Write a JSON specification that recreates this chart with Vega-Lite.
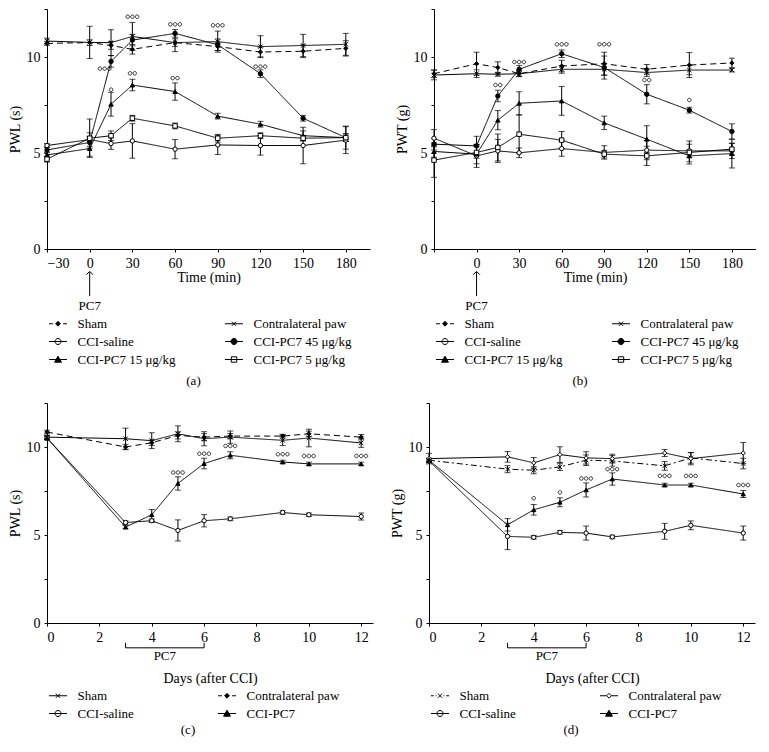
{
"$schema": "https://vega.github.io/schema/vega-lite/v6.json",
"padding": {"left": 8, "top": 8, "right": 0, "bottom": 0},
"config": {
  "view": {"stroke": null},
  "font": "Liberation Serif",
  "axis": {"domainColor": "black", "tickColor": "black", "labelColor": "black", "titleColor": "black", "labelFont": "Liberation Serif", "titleFont": "Liberation Serif", "labelFontSize": 14, "titleFontSize": 14, "titleFontWeight": "normal", "grid": false, "tickSize": 3, "labelPadding": 4, "domainWidth": 1, "tickWidth": 1},
  "legend": {"labelFont": "Liberation Serif", "labelFontSize": 13, "labelColor": "black", "padding": 0},
  "title": {"font": "Liberation Serif", "fontSize": 13, "fontWeight": "normal", "color": "black"},
  "text": {"font": "Liberation Serif", "color": "black"}
},
"resolve": {"scale": {"strokeDash": "independent", "size": "independent", "shape": "independent", "fill": "independent", "stroke": "independent"}},
"datasets": {
  "a": [
    {"s":"Sham","t":-30,"v":10.71,"e":0.1},{"s":"Sham","t":0,"v":10.75,"e":0.15},{"s":"Sham","t":15,"v":10.6,"e":0.2},{"s":"Sham","t":30,"v":10.4,"e":0.25},{"s":"Sham","t":60,"v":10.75,"e":0.2},{"s":"Sham","t":90,"v":10.54,"e":0.2},{"s":"Sham","t":120,"v":10.26,"e":0.25},{"s":"Sham","t":150,"v":10.3,"e":0.33},{"s":"Sham","t":180,"v":10.45,"e":0.4},
    {"s":"Contralateral paw","t":-30,"v":10.83,"e":0.15},{"s":"Contralateral paw","t":0,"v":10.76,"e":0.84},{"s":"Contralateral paw","t":15,"v":10.75,"e":0.67},{"s":"Contralateral paw","t":30,"v":11.07,"e":0.73},{"s":"Contralateral paw","t":60,"v":10.75,"e":0.47},{"s":"Contralateral paw","t":90,"v":10.8,"e":0.55},{"s":"Contralateral paw","t":120,"v":10.54,"e":0.57},{"s":"Contralateral paw","t":150,"v":10.6,"e":0.58},{"s":"Contralateral paw","t":180,"v":10.66,"e":0.57},
    {"s":"CCI-saline","t":-30,"v":5.39,"e":0.1},{"s":"CCI-saline","t":0,"v":5.7,"e":0.35},{"s":"CCI-saline","t":15,"v":5.49,"e":0.3},{"s":"CCI-saline","t":30,"v":5.63,"e":0.9},{"s":"CCI-saline","t":60,"v":5.2,"e":0.5},{"s":"CCI-saline","t":90,"v":5.42,"e":0.5},{"s":"CCI-saline","t":120,"v":5.39,"e":0.5},{"s":"CCI-saline","t":150,"v":5.39,"e":0.95},{"s":"CCI-saline","t":180,"v":5.67,"e":0.7},
    {"s":"CCI-PC7 45 μg/kg","t":-30,"v":5.16,"e":0.15},{"s":"CCI-PC7 45 μg/kg","t":0,"v":5.55,"e":0.3},{"s":"CCI-PC7 45 μg/kg","t":15,"v":9.77,"e":0.3},{"s":"CCI-PC7 45 μg/kg","t":30,"v":10.88,"e":0.3},{"s":"CCI-PC7 45 μg/kg","t":60,"v":11.23,"e":0.2},{"s":"CCI-PC7 45 μg/kg","t":90,"v":10.64,"e":0.3},{"s":"CCI-PC7 45 μg/kg","t":120,"v":9.13,"e":0.2},{"s":"CCI-PC7 45 μg/kg","t":150,"v":6.81,"e":0.15},{"s":"CCI-PC7 45 μg/kg","t":180,"v":5.8,"e":0.2},
    {"s":"CCI-PC7 15 μg/kg","t":-30,"v":4.9,"e":0.15},{"s":"CCI-PC7 15 μg/kg","t":0,"v":5.23,"e":0.4},{"s":"CCI-PC7 15 μg/kg","t":15,"v":7.54,"e":0.62},{"s":"CCI-PC7 15 μg/kg","t":30,"v":8.54,"e":0.3},{"s":"CCI-PC7 15 μg/kg","t":60,"v":8.2,"e":0.45},{"s":"CCI-PC7 15 μg/kg","t":90,"v":6.92,"e":0.15},{"s":"CCI-PC7 15 μg/kg","t":120,"v":6.5,"e":0.15},{"s":"CCI-PC7 15 μg/kg","t":150,"v":5.9,"e":0.25},{"s":"CCI-PC7 15 μg/kg","t":180,"v":5.8,"e":0.6},
    {"s":"CCI-PC7 5 μg/kg","t":-30,"v":4.68,"e":0.15},{"s":"CCI-PC7 5 μg/kg","t":0,"v":5.77,"e":1.0},{"s":"CCI-PC7 5 μg/kg","t":15,"v":5.9,"e":0.25},{"s":"CCI-PC7 5 μg/kg","t":30,"v":6.81,"e":0.15},{"s":"CCI-PC7 5 μg/kg","t":60,"v":6.41,"e":0.15},{"s":"CCI-PC7 5 μg/kg","t":90,"v":5.77,"e":0.2},{"s":"CCI-PC7 5 μg/kg","t":120,"v":5.9,"e":0.15},{"s":"CCI-PC7 5 μg/kg","t":150,"v":5.77,"e":0.15},{"s":"CCI-PC7 5 μg/kg","t":180,"v":5.8,"e":0.2}
  ],
  "b": [
    {"s":"Sham","t":-30,"v":9.13,"e":0.2},{"s":"Sham","t":0,"v":9.65,"e":0.6},{"s":"Sham","t":15,"v":9.45,"e":0.3},{"s":"Sham","t":30,"v":9.13,"e":0.15},{"s":"Sham","t":60,"v":9.53,"e":0.3},{"s":"Sham","t":90,"v":9.65,"e":0.6},{"s":"Sham","t":120,"v":9.36,"e":0.25},{"s":"Sham","t":150,"v":9.58,"e":0.65},{"s":"Sham","t":180,"v":9.69,"e":0.25},
    {"s":"Contralateral paw","t":-30,"v":9.06,"e":0.25},{"s":"Contralateral paw","t":0,"v":9.13,"e":0.2},{"s":"Contralateral paw","t":15,"v":9.1,"e":0.1},{"s":"Contralateral paw","t":30,"v":9.13,"e":0.15},{"s":"Contralateral paw","t":60,"v":9.36,"e":0.2},{"s":"Contralateral paw","t":90,"v":9.36,"e":0.3},{"s":"Contralateral paw","t":120,"v":9.19,"e":0.2},{"s":"Contralateral paw","t":150,"v":9.32,"e":0.25},{"s":"Contralateral paw","t":180,"v":9.32,"e":0.1},
    {"s":"CCI-saline","t":-30,"v":5.77,"e":0.45},{"s":"CCI-saline","t":0,"v":4.85,"e":0.6},{"s":"CCI-saline","t":15,"v":5.11,"e":0.6},{"s":"CCI-saline","t":30,"v":5.01,"e":0.25},{"s":"CCI-saline","t":60,"v":5.23,"e":0.4},{"s":"CCI-saline","t":90,"v":5.03,"e":0.35},{"s":"CCI-saline","t":120,"v":5.15,"e":0.5},{"s":"CCI-saline","t":150,"v":5.11,"e":0.35},{"s":"CCI-saline","t":180,"v":5.11,"e":0.4},
    {"s":"CCI-PC7 45 μg/kg","t":-30,"v":5.46,"e":0.3},{"s":"CCI-PC7 45 μg/kg","t":0,"v":5.37,"e":0.5},{"s":"CCI-PC7 45 μg/kg","t":15,"v":7.97,"e":0.3},{"s":"CCI-PC7 45 μg/kg","t":30,"v":9.36,"e":0.2},{"s":"CCI-PC7 45 μg/kg","t":60,"v":10.17,"e":0.2},{"s":"CCI-PC7 45 μg/kg","t":90,"v":9.45,"e":0.6},{"s":"CCI-PC7 45 μg/kg","t":120,"v":8.06,"e":0.5},{"s":"CCI-PC7 45 μg/kg","t":150,"v":7.23,"e":0.15},{"s":"CCI-PC7 45 μg/kg","t":180,"v":6.12,"e":0.4},
    {"s":"CCI-PC7 15 μg/kg","t":-30,"v":5.08,"e":0.3},{"s":"CCI-PC7 15 μg/kg","t":0,"v":4.94,"e":0.5},{"s":"CCI-PC7 15 μg/kg","t":15,"v":6.71,"e":0.5},{"s":"CCI-PC7 15 μg/kg","t":30,"v":7.59,"e":0.6},{"s":"CCI-PC7 15 μg/kg","t":60,"v":7.71,"e":0.75},{"s":"CCI-PC7 15 μg/kg","t":90,"v":6.57,"e":0.35},{"s":"CCI-PC7 15 μg/kg","t":120,"v":5.72,"e":0.7},{"s":"CCI-PC7 15 μg/kg","t":150,"v":4.85,"e":0.3},{"s":"CCI-PC7 15 μg/kg","t":180,"v":4.97,"e":0.75},
    {"s":"CCI-PC7 5 μg/kg","t":-30,"v":4.63,"e":0.9},{"s":"CCI-PC7 5 μg/kg","t":0,"v":5.03,"e":0.3},{"s":"CCI-PC7 5 μg/kg","t":15,"v":5.29,"e":0.7},{"s":"CCI-PC7 5 μg/kg","t":30,"v":5.98,"e":1.0},{"s":"CCI-PC7 5 μg/kg","t":60,"v":5.67,"e":0.45},{"s":"CCI-PC7 5 μg/kg","t":90,"v":4.94,"e":0.2},{"s":"CCI-PC7 5 μg/kg","t":120,"v":4.85,"e":0.5},{"s":"CCI-PC7 5 μg/kg","t":150,"v":5.03,"e":0.6},{"s":"CCI-PC7 5 μg/kg","t":180,"v":5.2,"e":0.3}
  ],
  "c": [
    {"s":"Sham","t":0,"v":10.56,"e":0.1},{"s":"Sham","t":3,"v":10.47,"e":0.6},{"s":"Sham","t":4,"v":10.36,"e":0.45},{"s":"Sham","t":5,"v":10.75,"e":0.45},{"s":"Sham","t":6,"v":10.47,"e":0.4},{"s":"Sham","t":7,"v":10.56,"e":0.35},{"s":"Sham","t":9,"v":10.38,"e":0.3},{"s":"Sham","t":10,"v":10.51,"e":0.5},{"s":"Sham","t":12,"v":10.23,"e":0.25},
    {"s":"Contralateral paw","t":0,"v":10.85,"e":0.1},{"s":"Contralateral paw","t":3,"v":10.0,"e":0.15},{"s":"Contralateral paw","t":4,"v":10.24,"e":0.15},{"s":"Contralateral paw","t":5,"v":10.66,"e":0.2},{"s":"Contralateral paw","t":6,"v":10.56,"e":0.2},{"s":"Contralateral paw","t":7,"v":10.62,"e":0.15},{"s":"Contralateral paw","t":9,"v":10.62,"e":0.1},{"s":"Contralateral paw","t":10,"v":10.75,"e":0.15},{"s":"Contralateral paw","t":12,"v":10.56,"e":0.15},
    {"s":"CCI-saline","t":0,"v":10.51,"e":0.1},{"s":"CCI-saline","t":3,"v":5.71,"e":0.1},{"s":"CCI-saline","t":4,"v":5.81,"e":0.1},{"s":"CCI-saline","t":5,"v":5.26,"e":0.6},{"s":"CCI-saline","t":6,"v":5.81,"e":0.35},{"s":"CCI-saline","t":7,"v":5.92,"e":0.1},{"s":"CCI-saline","t":9,"v":6.28,"e":0.1},{"s":"CCI-saline","t":10,"v":6.15,"e":0.1},{"s":"CCI-saline","t":12,"v":6.05,"e":0.2},
    {"s":"CCI-PC7","t":0,"v":10.51,"e":0.1},{"s":"CCI-PC7","t":3,"v":5.45,"e":0.1},{"s":"CCI-PC7","t":4,"v":6.15,"e":0.3},{"s":"CCI-PC7","t":5,"v":7.93,"e":0.38},{"s":"CCI-PC7","t":6,"v":9.06,"e":0.3},{"s":"CCI-PC7","t":7,"v":9.53,"e":0.2},{"s":"CCI-PC7","t":9,"v":9.15,"e":0.1},{"s":"CCI-PC7","t":10,"v":9.04,"e":0.1},{"s":"CCI-PC7","t":12,"v":9.04,"e":0.1}
  ],
  "d": [
    {"s":"Sham","t":0,"v":9.25,"e":0.1},{"s":"Sham","t":3,"v":8.74,"e":0.2},{"s":"Sham","t":4,"v":8.68,"e":0.2},{"s":"Sham","t":5,"v":8.87,"e":0.2},{"s":"Sham","t":6,"v":9.25,"e":0.3},{"s":"Sham","t":7,"v":9.21,"e":0.3},{"s":"Sham","t":9,"v":8.93,"e":0.25},{"s":"Sham","t":10,"v":9.38,"e":0.3},{"s":"Sham","t":12,"v":9.06,"e":0.3},
    {"s":"Contralateral paw","t":0,"v":9.34,"e":0.3},{"s":"Contralateral paw","t":3,"v":9.44,"e":0.3},{"s":"Contralateral paw","t":4,"v":9.1,"e":0.3},{"s":"Contralateral paw","t":5,"v":9.57,"e":0.45},{"s":"Contralateral paw","t":6,"v":9.38,"e":0.35},{"s":"Contralateral paw","t":7,"v":9.34,"e":0.25},{"s":"Contralateral paw","t":9,"v":9.66,"e":0.2},{"s":"Contralateral paw","t":10,"v":9.34,"e":0.35},{"s":"Contralateral paw","t":12,"v":9.66,"e":0.6},
    {"s":"CCI-saline","t":0,"v":9.21,"e":0.1},{"s":"CCI-saline","t":3,"v":4.92,"e":0.75},{"s":"CCI-saline","t":4,"v":4.87,"e":0.1},{"s":"CCI-saline","t":5,"v":5.15,"e":0.1},{"s":"CCI-saline","t":6,"v":5.11,"e":0.4},{"s":"CCI-saline","t":7,"v":4.89,"e":0.1},{"s":"CCI-saline","t":9,"v":5.21,"e":0.45},{"s":"CCI-saline","t":10,"v":5.55,"e":0.25},{"s":"CCI-saline","t":12,"v":5.11,"e":0.4},
    {"s":"CCI-PC7","t":0,"v":9.25,"e":0.1},{"s":"CCI-PC7","t":3,"v":5.58,"e":0.35},{"s":"CCI-PC7","t":4,"v":6.43,"e":0.3},{"s":"CCI-PC7","t":5,"v":6.86,"e":0.25},{"s":"CCI-PC7","t":6,"v":7.56,"e":0.4},{"s":"CCI-PC7","t":7,"v":8.18,"e":0.35},{"s":"CCI-PC7","t":9,"v":7.84,"e":0.1},{"s":"CCI-PC7","t":10,"v":7.84,"e":0.1},{"s":"CCI-PC7","t":12,"v":7.33,"e":0.2}
  ],
  "sigA": [{"t":10.5,"v":9.39,"lab":"ooo"},{"t":30,"v":12.1,"lab":"ooo"},{"t":60,"v":11.7,"lab":"ooo"},{"t":90,"v":11.65,"lab":"ooo"},{"t":120,"v":9.5,"lab":"ooo"},{"t":15,"v":8.3,"lab":"o"},{"t":30,"v":9.15,"lab":"oo"},{"t":60,"v":8.9,"lab":"oo"}],
  "sigB": [{"t":15,"v":8.54,"lab":"oo"},{"t":30,"v":9.74,"lab":"ooo"},{"t":60,"v":10.66,"lab":"ooo"},{"t":90,"v":10.66,"lab":"ooo"},{"t":120,"v":8.8,"lab":"oo"},{"t":150,"v":7.76,"lab":"o"}],
  "sigC": [{"t":5,"v":8.55,"lab":"ooo"},{"t":6,"v":9.62,"lab":"ooo"},{"t":7,"v":10.06,"lab":"ooo"},{"t":9,"v":9.59,"lab":"ooo"},{"t":10,"v":9.49,"lab":"ooo"},{"t":12,"v":9.49,"lab":"ooo"}],
  "sigD": [{"t":4,"v":7.09,"lab":"o"},{"t":5,"v":7.42,"lab":"o"},{"t":6,"v":8.21,"lab":"ooo"},{"t":7,"v":8.74,"lab":"ooo"},{"t":9,"v":8.36,"lab":"ooo"},{"t":10,"v":8.36,"lab":"ooo"},{"t":12,"v":7.84,"lab":"ooo"}]
},
"vconcat": [
 {"hconcat": [
  {"width": 323, "height": 240, "data": {"name": "a"},
   "title": {"text": "(a)", "orient": "bottom", "anchor": "middle", "frame": "group", "offset": 8, "dx": -15},
   "resolve": {"scale": {"shape": "independent", "fill": "independent", "stroke": "independent"}},
   "layer": [
    {"mark": {"type": "line", "color": "black", "strokeWidth": 1},
     "encoding": {
       "x": {"field": "t", "type": "quantitative", "scale": {"domain": [-30, 197], "nice": false, "zero": false}, "axis": {"title": "Time (min)", "values": [-30,-15,0,15,30,45,60,75,90,105,120,135,150,165,180,195], "labelExpr": "datum.value % 30 === 0 ? datum.label : ''", "titlePadding": 0}},
       "y": {"field": "v", "type": "quantitative", "scale": {"domain": [0, 12.5], "nice": false, "zero": false}, "axis": {"title": "PWL (s)", "values": [0,2.5,5,7.5,10,12.5], "labelExpr": "datum.value % 5 === 0 ? datum.label : ''", "titlePadding": 4}},
       "detail": {"field": "s"},
       "strokeDash": {"field": "s", "type": "nominal", "scale": {"domain": ["Sham","Contralateral paw","CCI-saline","CCI-PC7 45 μg/kg","CCI-PC7 15 μg/kg","CCI-PC7 5 μg/kg"], "range": [[6,4],[1,0],[1,0],[1,0],[1,0],[1,0]]}, "legend": null}}},
    {"mark": {"type": "errorbar", "ticks": {"size": 6}, "color": "black", "thickness": 1},
     "encoding": {
       "x": {"field": "t", "type": "quantitative", "title": "Time (min)", "scale": {"domain": [-30, 197], "nice": false, "zero": false}},
       "y": {"field": "v", "type": "quantitative", "title": "PWL (s)", "scale": {"domain": [0, 12.5], "nice": false, "zero": false}},
       "yError": {"field": "e"}}},
    {"mark": {"type": "point", "filled": true, "stroke": "black", "strokeWidth": 1, "opacity": 1},
     "encoding": {
       "x": {"field": "t", "type": "quantitative", "scale": {"domain": [-30, 197], "nice": false, "zero": false}},
       "y": {"field": "v", "type": "quantitative", "scale": {"domain": [0, 12.5], "nice": false, "zero": false}},
       "shape": {"field": "s", "type": "nominal", "scale": {"domain": ["Sham","Contralateral paw","CCI-saline","CCI-PC7 45 μg/kg","CCI-PC7 15 μg/kg","CCI-PC7 5 μg/kg"], "range": ["diamond","M-1,-1L1,1M-1,1L1,-1","circle","circle","triangle-up","square"]}, "legend": null},
       "fill": {"field": "s", "type": "nominal", "scale": {"domain": ["Sham","Contralateral paw","CCI-saline","CCI-PC7 45 μg/kg","CCI-PC7 15 μg/kg","CCI-PC7 5 μg/kg"], "range": ["black","black","white","black","black","white"]}, "legend": null},
       "size": {"field": "s", "type": "nominal", "scale": {"domain": ["Sham","Contralateral paw","CCI-saline","CCI-PC7 45 μg/kg","CCI-PC7 15 μg/kg","CCI-PC7 5 μg/kg"], "range": [18,20,60,64,60,50]}, "legend": null}}},
    {"data": {"name": "sigA"},
     "mark": {"type": "point", "filled": false, "stroke": "black", "strokeWidth": 0.8, "size": 35, "opacity": 1},
     "encoding": {
       "x": {"field": "t", "type": "quantitative", "scale": {"domain": [-30, 197], "nice": false, "zero": false}},
       "y": {"field": "v", "type": "quantitative", "scale": {"domain": [0, 12.5], "nice": false, "zero": false}},
       "shape": {"field": "lab", "type": "nominal", "scale": {"domain": ["o","oo","ooo"], "range": ["M-0.6,0A0.6,0.6 0 1,0 0.6,0A0.6,0.6 0 1,0 -0.6,0Z","M-1.4,0A0.6,0.6 0 1,0 -0.2,0A0.6,0.6 0 1,0 -1.4,0ZM0.2,0A0.6,0.6 0 1,0 1.4,0A0.6,0.6 0 1,0 0.2,0Z","M-2.2,0A0.6,0.6 0 1,0 -1,0A0.6,0.6 0 1,0 -2.2,0ZM-0.6,0A0.6,0.6 0 1,0 0.6,0A0.6,0.6 0 1,0 -0.6,0ZM1,0A0.6,0.6 0 1,0 2.2,0A0.6,0.6 0 1,0 1,0Z"]}, "legend": null}}},
    {"data": {"values": [{}]},
     "mark": {"type": "rule", "color": "black", "strokeWidth": 1},
     "encoding": {
       "x": {"datum": 0, "type": "quantitative", "scale": {"domain": [-30, 197], "nice": false, "zero": false}},
       "y": {"datum": -1.2, "type": "quantitative", "scale": {"domain": [0, 12.5], "nice": false, "zero": false}},
       "y2": {"datum": -2.45}}},
    {"data": {"values": [{}]},
     "mark": {"type": "point", "shape": "M-1,0.8L0,-0.2L1,0.8", "filled": false, "stroke": "black", "strokeWidth": 1, "size": 45, "opacity": 1},
     "encoding": {
       "x": {"datum": 0, "type": "quantitative", "scale": {"domain": [-30, 197], "nice": false, "zero": false}},
       "y": {"datum": -1.2, "type": "quantitative", "scale": {"domain": [0, 12.5], "nice": false, "zero": false}}}},
    {"data": {"values": [{}]},
     "mark": {"type": "text", "text": "PC7", "fontSize": 13, "baseline": "middle", "fill": "black"},
     "encoding": {
       "x": {"datum": 0, "type": "quantitative", "scale": {"domain": [-30, 197], "nice": false, "zero": false}},
       "y": {"datum": -2.95, "type": "quantitative", "scale": {"domain": [0, 12.5], "nice": false, "zero": false}}}},
    {"transform": [{"filter": "datum.t > 9999"}],
     "mark": {"type": "point", "filled": true, "stroke": "black", "strokeWidth": 1, "size": 36, "opacity": 1},
     "encoding": {
       "x": {"field": "t", "type": "quantitative", "scale": {"domain": [-30, 197], "nice": false, "zero": false}},
       "y": {"field": "v", "type": "quantitative", "scale": {"domain": [0, 12.5], "nice": false, "zero": false}},
       "shape": {"field": "s", "type": "nominal", "scale": {"domain": ["Sham","CCI-saline","CCI-PC7 15 μg/kg","Contralateral paw","CCI-PC7 45 μg/kg","CCI-PC7 5 μg/kg"], "range": ["M-3,0H-1.7M1.7,0H3M0,-0.8L0.8,0L0,0.8L-0.8,0Z","M-3,0H3M-1,0A1,1 0 1,0 1,0A1,1 0 1,0 -1,0Z","M-3,0H3M0,-1.1L1.15,0.9L-1.15,0.9Z","M-3,0H3M-0.7,-0.7L0.7,0.7M-0.7,0.7L0.7,-0.7","M-3,0H3M-1,0A1,1 0 1,0 1,0A1,1 0 1,0 -1,0Z","M-3,0H3M-0.9,-0.9H0.9V0.9H-0.9Z"]},
         "legend": {"orient": "none", "legendX": 4.5, "legendY": 308, "direction": "vertical", "columns": 2, "columnPadding": 47, "rowPadding": 4, "symbolSize": 36, "labelOffset": 13, "title": null, "symbolStrokeWidth": 1}},
       "fill": {"field": "s", "type": "nominal", "scale": {"domain": ["Sham","CCI-saline","CCI-PC7 15 μg/kg","Contralateral paw","CCI-PC7 45 μg/kg","CCI-PC7 5 μg/kg"], "range": ["black","white","black","black","black","white"]},
         "legend": {"orient": "none", "legendX": 4.5, "legendY": 308, "direction": "vertical", "columns": 2, "columnPadding": 47, "rowPadding": 4, "symbolSize": 36, "labelOffset": 13, "title": null, "symbolStrokeWidth": 1}},
       "stroke": {"field": "s", "type": "nominal", "scale": {"domain": ["Sham","CCI-saline","CCI-PC7 15 μg/kg","Contralateral paw","CCI-PC7 45 μg/kg","CCI-PC7 5 μg/kg"], "range": ["black","black","black","black","black","black"]},
         "legend": {"orient": "none", "legendX": 4.5, "legendY": 308, "direction": "vertical", "columns": 2, "columnPadding": 47, "rowPadding": 4, "symbolSize": 36, "labelOffset": 13, "title": null, "symbolStrokeWidth": 1}}}}
   ]},
  {"width": 322, "height": 240, "data": {"name": "b"},
   "title": {"text": "(b)", "orient": "bottom", "anchor": "middle", "frame": "group", "offset": 8, "dx": -15},
   "resolve": {"scale": {"shape": "independent", "fill": "independent", "stroke": "independent"}},
   "layer": [
    {"mark": {"type": "line", "color": "black", "strokeWidth": 1},
     "encoding": {
       "x": {"field": "t", "type": "quantitative", "scale": {"domain": [-30, 197], "nice": false, "zero": false}, "axis": {"title": "Time (min)", "values": [-30,-15,0,15,30,45,60,75,90,105,120,135,150,165,180,195], "labelExpr": "datum.value % 30 === 0 && datum.value > -30 ? datum.label : ''", "titlePadding": 0}},
       "y": {"field": "v", "type": "quantitative", "scale": {"domain": [0, 12.5], "nice": false, "zero": false}, "axis": {"title": "PWT (g)", "values": [0,2.5,5,7.5,10,12.5], "labelExpr": "datum.value % 5 === 0 ? datum.label : ''", "titlePadding": 4}},
       "detail": {"field": "s"},
       "strokeDash": {"field": "s", "type": "nominal", "scale": {"domain": ["Sham","Contralateral paw","CCI-saline","CCI-PC7 45 μg/kg","CCI-PC7 15 μg/kg","CCI-PC7 5 μg/kg"], "range": [[6,4],[1,0],[1,0],[1,0],[1,0],[1,0]]}, "legend": null}}},
    {"mark": {"type": "errorbar", "ticks": {"size": 6}, "color": "black", "thickness": 1},
     "encoding": {
       "x": {"field": "t", "type": "quantitative", "title": "Time (min)", "scale": {"domain": [-30, 197], "nice": false, "zero": false}},
       "y": {"field": "v", "type": "quantitative", "title": "PWT (g)", "scale": {"domain": [0, 12.5], "nice": false, "zero": false}},
       "yError": {"field": "e"}}},
    {"mark": {"type": "point", "filled": true, "stroke": "black", "strokeWidth": 1, "opacity": 1},
     "encoding": {
       "x": {"field": "t", "type": "quantitative", "scale": {"domain": [-30, 197], "nice": false, "zero": false}},
       "y": {"field": "v", "type": "quantitative", "scale": {"domain": [0, 12.5], "nice": false, "zero": false}},
       "shape": {"field": "s", "type": "nominal", "scale": {"domain": ["Sham","Contralateral paw","CCI-saline","CCI-PC7 45 μg/kg","CCI-PC7 15 μg/kg","CCI-PC7 5 μg/kg"], "range": ["diamond","M-1,-1L1,1M-1,1L1,-1","circle","circle","triangle-up","square"]}, "legend": null},
       "fill": {"field": "s", "type": "nominal", "scale": {"domain": ["Sham","Contralateral paw","CCI-saline","CCI-PC7 45 μg/kg","CCI-PC7 15 μg/kg","CCI-PC7 5 μg/kg"], "range": ["black","black","white","black","black","white"]}, "legend": null},
       "size": {"field": "s", "type": "nominal", "scale": {"domain": ["Sham","Contralateral paw","CCI-saline","CCI-PC7 45 μg/kg","CCI-PC7 15 μg/kg","CCI-PC7 5 μg/kg"], "range": [18,20,60,64,60,50]}, "legend": null}}},
    {"data": {"name": "sigB"},
     "mark": {"type": "point", "filled": false, "stroke": "black", "strokeWidth": 0.8, "size": 35, "opacity": 1},
     "encoding": {
       "x": {"field": "t", "type": "quantitative", "scale": {"domain": [-30, 197], "nice": false, "zero": false}},
       "y": {"field": "v", "type": "quantitative", "scale": {"domain": [0, 12.5], "nice": false, "zero": false}},
       "shape": {"field": "lab", "type": "nominal", "scale": {"domain": ["o","oo","ooo"], "range": ["M-0.6,0A0.6,0.6 0 1,0 0.6,0A0.6,0.6 0 1,0 -0.6,0Z","M-1.4,0A0.6,0.6 0 1,0 -0.2,0A0.6,0.6 0 1,0 -1.4,0ZM0.2,0A0.6,0.6 0 1,0 1.4,0A0.6,0.6 0 1,0 0.2,0Z","M-2.2,0A0.6,0.6 0 1,0 -1,0A0.6,0.6 0 1,0 -2.2,0ZM-0.6,0A0.6,0.6 0 1,0 0.6,0A0.6,0.6 0 1,0 -0.6,0ZM1,0A0.6,0.6 0 1,0 2.2,0A0.6,0.6 0 1,0 1,0Z"]}, "legend": null}}},
    {"data": {"values": [{}]},
     "mark": {"type": "rule", "color": "black", "strokeWidth": 1},
     "encoding": {
       "x": {"datum": 0, "type": "quantitative", "scale": {"domain": [-30, 197], "nice": false, "zero": false}},
       "y": {"datum": -1.2, "type": "quantitative", "scale": {"domain": [0, 12.5], "nice": false, "zero": false}},
       "y2": {"datum": -2.45}}},
    {"data": {"values": [{}]},
     "mark": {"type": "point", "shape": "M-1,0.8L0,-0.2L1,0.8", "filled": false, "stroke": "black", "strokeWidth": 1, "size": 45, "opacity": 1},
     "encoding": {
       "x": {"datum": 0, "type": "quantitative", "scale": {"domain": [-30, 197], "nice": false, "zero": false}},
       "y": {"datum": -1.2, "type": "quantitative", "scale": {"domain": [0, 12.5], "nice": false, "zero": false}}}},
    {"data": {"values": [{}]},
     "mark": {"type": "text", "text": "PC7", "fontSize": 13, "baseline": "middle", "fill": "black"},
     "encoding": {
       "x": {"datum": 0, "type": "quantitative", "scale": {"domain": [-30, 197], "nice": false, "zero": false}},
       "y": {"datum": -2.95, "type": "quantitative", "scale": {"domain": [0, 12.5], "nice": false, "zero": false}}}},
    {"transform": [{"filter": "datum.t > 9999"}],
     "mark": {"type": "point", "filled": true, "stroke": "black", "strokeWidth": 1, "size": 36, "opacity": 1},
     "encoding": {
       "x": {"field": "t", "type": "quantitative", "scale": {"domain": [-30, 197], "nice": false, "zero": false}},
       "y": {"field": "v", "type": "quantitative", "scale": {"domain": [0, 12.5], "nice": false, "zero": false}},
       "shape": {"field": "s", "type": "nominal", "scale": {"domain": ["Sham","CCI-saline","CCI-PC7 15 μg/kg","Contralateral paw","CCI-PC7 45 μg/kg","CCI-PC7 5 μg/kg"], "range": ["M-3,0H-1.7M1.7,0H3M0,-0.8L0.8,0L0,0.8L-0.8,0Z","M-3,0H3M-1,0A1,1 0 1,0 1,0A1,1 0 1,0 -1,0Z","M-3,0H3M0,-1.1L1.15,0.9L-1.15,0.9Z","M-3,0H3M-0.7,-0.7L0.7,0.7M-0.7,0.7L0.7,-0.7","M-3,0H3M-1,0A1,1 0 1,0 1,0A1,1 0 1,0 -1,0Z","M-3,0H3M-0.9,-0.9H0.9V0.9H-0.9Z"]},
         "legend": {"orient": "none", "legendX": 4.5, "legendY": 308, "direction": "vertical", "columns": 2, "columnPadding": 47, "rowPadding": 4, "symbolSize": 36, "labelOffset": 13, "title": null, "symbolStrokeWidth": 1}},
       "fill": {"field": "s", "type": "nominal", "scale": {"domain": ["Sham","CCI-saline","CCI-PC7 15 μg/kg","Contralateral paw","CCI-PC7 45 μg/kg","CCI-PC7 5 μg/kg"], "range": ["black","white","black","black","black","white"]},
         "legend": {"orient": "none", "legendX": 4.5, "legendY": 308, "direction": "vertical", "columns": 2, "columnPadding": 47, "rowPadding": 4, "symbolSize": 36, "labelOffset": 13, "title": null, "symbolStrokeWidth": 1}},
       "stroke": {"field": "s", "type": "nominal", "scale": {"domain": ["Sham","CCI-saline","CCI-PC7 15 μg/kg","Contralateral paw","CCI-PC7 45 μg/kg","CCI-PC7 5 μg/kg"], "range": ["black","black","black","black","black","black"]},
         "legend": {"orient": "none", "legendX": 4.5, "legendY": 308, "direction": "vertical", "columns": 2, "columnPadding": 47, "rowPadding": 4, "symbolSize": 36, "labelOffset": 13, "title": null, "symbolStrokeWidth": 1}}}}
   ]}
 ], "spacing": 25, "resolve": {"scale": {"strokeDash": "independent", "size": "independent", "shape": "independent", "fill": "independent", "stroke": "independent"}}},
 {"hconcat": [
  {"width": 326, "height": 220, "data": {"name": "c"},
   "title": {"text": "(c)", "orient": "bottom", "anchor": "middle", "frame": "group", "offset": 3, "dx": -22},
   "resolve": {"scale": {"shape": "independent", "fill": "independent", "stroke": "independent"}},
   "layer": [
    {"mark": {"type": "line", "color": "black", "strokeWidth": 1},
     "encoding": {
       "x": {"field": "t", "type": "quantitative", "scale": {"domain": [0, 12.45], "nice": false, "zero": false}, "axis": {"title": "Days (after CCI)", "values": [0,1,2,3,4,5,6,7,8,9,10,11,12], "labelExpr": "datum.value % 2 === 0 ? datum.label : ''", "titlePadding": 27}},
       "y": {"field": "v", "type": "quantitative", "scale": {"domain": [0, 12.5], "nice": false, "zero": false}, "axis": {"title": "PWL (s)", "values": [0,2.5,5,7.5,10,12.5], "labelExpr": "datum.value % 5 === 0 ? datum.label : ''", "titlePadding": 4}},
       "detail": {"field": "s"},
       "strokeDash": {"field": "s", "type": "nominal", "scale": {"domain": ["Sham","Contralateral paw","CCI-saline","CCI-PC7"], "range": [[1,0],[6,4],[1,0],[1,0]]}, "legend": null}}},
    {"mark": {"type": "errorbar", "ticks": {"size": 6}, "color": "black", "thickness": 1},
     "encoding": {
       "x": {"field": "t", "type": "quantitative", "title": "Days (after CCI)", "scale": {"domain": [0, 12.45], "nice": false, "zero": false}},
       "y": {"field": "v", "type": "quantitative", "title": "PWL (s)", "scale": {"domain": [0, 12.5], "nice": false, "zero": false}},
       "yError": {"field": "e"}}},
    {"mark": {"type": "point", "filled": true, "stroke": "black", "strokeWidth": 1, "opacity": 1},
     "encoding": {
       "x": {"field": "t", "type": "quantitative", "scale": {"domain": [0, 12.45], "nice": false, "zero": false}},
       "y": {"field": "v", "type": "quantitative", "scale": {"domain": [0, 12.5], "nice": false, "zero": false}},
       "shape": {"field": "s", "type": "nominal", "scale": {"domain": ["Sham","Contralateral paw","CCI-saline","CCI-PC7"], "range": ["M-1,-1L1,1M-1,1L1,-1","diamond","circle","triangle-up"]}, "legend": null},
       "fill": {"field": "s", "type": "nominal", "scale": {"domain": ["Sham","Contralateral paw","CCI-saline","CCI-PC7"], "range": ["black","black","white","black"]}, "legend": null},
       "size": {"field": "s", "type": "nominal", "scale": {"domain": ["Sham","Contralateral paw","CCI-saline","CCI-PC7"], "range": [20,18,60,60]}, "legend": null}}},
    {"data": {"name": "sigC"},
     "mark": {"type": "point", "filled": false, "stroke": "black", "strokeWidth": 0.8, "size": 35, "opacity": 1},
     "encoding": {
       "x": {"field": "t", "type": "quantitative", "scale": {"domain": [0, 12.45], "nice": false, "zero": false}},
       "y": {"field": "v", "type": "quantitative", "scale": {"domain": [0, 12.5], "nice": false, "zero": false}},
       "shape": {"field": "lab", "type": "nominal", "scale": {"domain": ["o","oo","ooo"], "range": ["M-0.6,0A0.6,0.6 0 1,0 0.6,0A0.6,0.6 0 1,0 -0.6,0Z","M-1.4,0A0.6,0.6 0 1,0 -0.2,0A0.6,0.6 0 1,0 -1.4,0ZM0.2,0A0.6,0.6 0 1,0 1.4,0A0.6,0.6 0 1,0 0.2,0Z","M-2.2,0A0.6,0.6 0 1,0 -1,0A0.6,0.6 0 1,0 -2.2,0ZM-0.6,0A0.6,0.6 0 1,0 0.6,0A0.6,0.6 0 1,0 -0.6,0ZM1,0A0.6,0.6 0 1,0 2.2,0A0.6,0.6 0 1,0 1,0Z"]}, "legend": null}}},
    {"data": {"values": [{}]},
     "mark": {"type": "rule", "color": "black", "strokeWidth": 1},
     "encoding": {
       "x": {"datum": 3, "type": "quantitative", "scale": {"domain": [0, 12.45], "nice": false, "zero": false}},
       "x2": {"datum": 6},
       "y": {"datum": -1.41, "type": "quantitative", "scale": {"domain": [0, 12.5], "nice": false, "zero": false}}}},
    {"data": {"values": [{"t": 3}, {"t": 6}]},
     "mark": {"type": "rule", "color": "black", "strokeWidth": 1},
     "encoding": {
       "x": {"field": "t", "type": "quantitative", "scale": {"domain": [0, 12.45], "nice": false, "zero": false}},
       "y": {"datum": -1.13, "type": "quantitative", "scale": {"domain": [0, 12.5], "nice": false, "zero": false}},
       "y2": {"datum": -1.41}}},
    {"data": {"values": [{}]},
     "mark": {"type": "text", "text": "PC7", "fontSize": 13, "baseline": "middle", "fill": "black"},
     "encoding": {
       "x": {"datum": 4.5, "type": "quantitative", "scale": {"domain": [0, 12.45], "nice": false, "zero": false}},
       "y": {"datum": -1.9, "type": "quantitative", "scale": {"domain": [0, 12.5], "nice": false, "zero": false}}}},
    {"transform": [{"filter": "datum.t > 9999"}],
     "mark": {"type": "point", "filled": true, "stroke": "black", "strokeWidth": 1, "size": 36, "opacity": 1},
     "encoding": {
       "x": {"field": "t", "type": "quantitative", "scale": {"domain": [0, 12.45], "nice": false, "zero": false}},
       "y": {"field": "v", "type": "quantitative", "scale": {"domain": [0, 12.5], "nice": false, "zero": false}},
       "shape": {"field": "s", "type": "nominal", "scale": {"domain": ["Sham","CCI-saline","Contralateral paw","CCI-PC7"], "range": ["M-3,0H3M-0.7,-0.7L0.7,0.7M-0.7,0.7L0.7,-0.7","M-3,0H3M-1,0A1,1 0 1,0 1,0A1,1 0 1,0 -1,0Z","M-3,0H-1.7M1.7,0H3M0,-0.8L0.8,0L0,0.8L-0.8,0Z","M-3,0H3M0,-1.1L1.15,0.9L-1.15,0.9Z"]},
         "legend": {"orient": "none", "legendX": 4.5, "legendY": 286, "direction": "vertical", "columns": 2, "columnPadding": 81, "rowPadding": 4, "symbolSize": 36, "labelOffset": 13, "title": null, "symbolStrokeWidth": 1}},
       "fill": {"field": "s", "type": "nominal", "scale": {"domain": ["Sham","CCI-saline","Contralateral paw","CCI-PC7"], "range": ["black","white","black","black"]},
         "legend": {"orient": "none", "legendX": 4.5, "legendY": 286, "direction": "vertical", "columns": 2, "columnPadding": 81, "rowPadding": 4, "symbolSize": 36, "labelOffset": 13, "title": null, "symbolStrokeWidth": 1}},
       "stroke": {"field": "s", "type": "nominal", "scale": {"domain": ["Sham","CCI-saline","Contralateral paw","CCI-PC7"], "range": ["black","black","black","black"]},
         "legend": {"orient": "none", "legendX": 4.5, "legendY": 286, "direction": "vertical", "columns": 2, "columnPadding": 81, "rowPadding": 4, "symbolSize": 36, "labelOffset": 13, "title": null, "symbolStrokeWidth": 1}}}}
   ]},
  {"width": 326, "height": 220, "data": {"name": "d"},
   "title": {"text": "(d)", "orient": "bottom", "anchor": "middle", "frame": "group", "offset": 3, "dx": -21},
   "resolve": {"scale": {"shape": "independent", "fill": "independent", "stroke": "independent"}},
   "layer": [
    {"mark": {"type": "line", "color": "black", "strokeWidth": 1},
     "encoding": {
       "x": {"field": "t", "type": "quantitative", "scale": {"domain": [0, 12.45], "nice": false, "zero": false}, "axis": {"title": "Days (after CCI)", "values": [0,1,2,3,4,5,6,7,8,9,10,11,12], "labelExpr": "datum.value % 2 === 0 ? datum.label : ''", "titlePadding": 27}},
       "y": {"field": "v", "type": "quantitative", "scale": {"domain": [0, 12.5], "nice": false, "zero": false}, "axis": {"title": "PWT (g)", "values": [0,2.5,5,7.5,10,12.5], "labelExpr": "datum.value % 5 === 0 ? datum.label : ''", "titlePadding": 4}},
       "detail": {"field": "s"},
       "strokeDash": {"field": "s", "type": "nominal", "scale": {"domain": ["Sham","Contralateral paw","CCI-saline","CCI-PC7"], "range": [[6,3,2,3],[1,0],[1,0],[1,0]]}, "legend": null}}},
    {"mark": {"type": "errorbar", "ticks": {"size": 6}, "color": "black", "thickness": 1},
     "encoding": {
       "x": {"field": "t", "type": "quantitative", "title": "Days (after CCI)", "scale": {"domain": [0, 12.45], "nice": false, "zero": false}},
       "y": {"field": "v", "type": "quantitative", "title": "PWT (g)", "scale": {"domain": [0, 12.5], "nice": false, "zero": false}},
       "yError": {"field": "e"}}},
    {"mark": {"type": "point", "filled": true, "stroke": "black", "strokeWidth": 1, "opacity": 1},
     "encoding": {
       "x": {"field": "t", "type": "quantitative", "scale": {"domain": [0, 12.45], "nice": false, "zero": false}},
       "y": {"field": "v", "type": "quantitative", "scale": {"domain": [0, 12.5], "nice": false, "zero": false}},
       "shape": {"field": "s", "type": "nominal", "scale": {"domain": ["Sham","Contralateral paw","CCI-saline","CCI-PC7"], "range": ["M-1,-1L1,1M-1,1L1,-1","diamond","circle","triangle-up"]}, "legend": null},
       "fill": {"field": "s", "type": "nominal", "scale": {"domain": ["Sham","Contralateral paw","CCI-saline","CCI-PC7"], "range": ["black","white","white","black"]}, "legend": null},
       "size": {"field": "s", "type": "nominal", "scale": {"domain": ["Sham","Contralateral paw","CCI-saline","CCI-PC7"], "range": [20,18,60,60]}, "legend": null}}},
    {"data": {"name": "sigD"},
     "mark": {"type": "point", "filled": false, "stroke": "black", "strokeWidth": 0.8, "size": 35, "opacity": 1},
     "encoding": {
       "x": {"field": "t", "type": "quantitative", "scale": {"domain": [0, 12.45], "nice": false, "zero": false}},
       "y": {"field": "v", "type": "quantitative", "scale": {"domain": [0, 12.5], "nice": false, "zero": false}},
       "shape": {"field": "lab", "type": "nominal", "scale": {"domain": ["o","oo","ooo"], "range": ["M-0.6,0A0.6,0.6 0 1,0 0.6,0A0.6,0.6 0 1,0 -0.6,0Z","M-1.4,0A0.6,0.6 0 1,0 -0.2,0A0.6,0.6 0 1,0 -1.4,0ZM0.2,0A0.6,0.6 0 1,0 1.4,0A0.6,0.6 0 1,0 0.2,0Z","M-2.2,0A0.6,0.6 0 1,0 -1,0A0.6,0.6 0 1,0 -2.2,0ZM-0.6,0A0.6,0.6 0 1,0 0.6,0A0.6,0.6 0 1,0 -0.6,0ZM1,0A0.6,0.6 0 1,0 2.2,0A0.6,0.6 0 1,0 1,0Z"]}, "legend": null}}},
    {"data": {"values": [{}]},
     "mark": {"type": "rule", "color": "black", "strokeWidth": 1},
     "encoding": {
       "x": {"datum": 3, "type": "quantitative", "scale": {"domain": [0, 12.45], "nice": false, "zero": false}},
       "x2": {"datum": 6},
       "y": {"datum": -1.41, "type": "quantitative", "scale": {"domain": [0, 12.5], "nice": false, "zero": false}}}},
    {"data": {"values": [{"t": 3}, {"t": 6}]},
     "mark": {"type": "rule", "color": "black", "strokeWidth": 1},
     "encoding": {
       "x": {"field": "t", "type": "quantitative", "scale": {"domain": [0, 12.45], "nice": false, "zero": false}},
       "y": {"datum": -1.13, "type": "quantitative", "scale": {"domain": [0, 12.5], "nice": false, "zero": false}},
       "y2": {"datum": -1.41}}},
    {"data": {"values": [{}]},
     "mark": {"type": "text", "text": "PC7", "fontSize": 13, "baseline": "middle", "fill": "black"},
     "encoding": {
       "x": {"datum": 4.5, "type": "quantitative", "scale": {"domain": [0, 12.45], "nice": false, "zero": false}},
       "y": {"datum": -1.9, "type": "quantitative", "scale": {"domain": [0, 12.5], "nice": false, "zero": false}}}},
    {"transform": [{"filter": "datum.t > 9999"}],
     "mark": {"type": "point", "filled": true, "stroke": "black", "strokeWidth": 1, "size": 36, "opacity": 1},
     "encoding": {
       "x": {"field": "t", "type": "quantitative", "scale": {"domain": [0, 12.45], "nice": false, "zero": false}},
       "y": {"field": "v", "type": "quantitative", "scale": {"domain": [0, 12.5], "nice": false, "zero": false}},
       "shape": {"field": "s", "type": "nominal", "scale": {"domain": ["Sham","CCI-saline","Contralateral paw","CCI-PC7"], "range": ["M-3,0H-2.1M-1.5,0H-1.2M1.2,0H1.5M2.1,0H3M-0.7,-0.7L0.7,0.7M-0.7,0.7L0.7,-0.7","M-3,0H3M-1,0A1,1 0 1,0 1,0A1,1 0 1,0 -1,0Z","M-3,0H-0.8M0.8,0H3M0,-0.8L0.8,0L0,0.8L-0.8,0Z","M-3,0H3M0,-1.1L1.15,0.9L-1.15,0.9Z"]},
         "legend": {"orient": "none", "legendX": 4.5, "legendY": 286, "direction": "vertical", "columns": 2, "columnPadding": 81, "rowPadding": 4, "symbolSize": 36, "labelOffset": 13, "title": null, "symbolStrokeWidth": 1}},
       "fill": {"field": "s", "type": "nominal", "scale": {"domain": ["Sham","CCI-saline","Contralateral paw","CCI-PC7"], "range": ["black","white","white","black"]},
         "legend": {"orient": "none", "legendX": 4.5, "legendY": 286, "direction": "vertical", "columns": 2, "columnPadding": 81, "rowPadding": 4, "symbolSize": 36, "labelOffset": 13, "title": null, "symbolStrokeWidth": 1}},
       "stroke": {"field": "s", "type": "nominal", "scale": {"domain": ["Sham","CCI-saline","Contralateral paw","CCI-PC7"], "range": ["black","black","black","black"]},
         "legend": {"orient": "none", "legendX": 4.5, "legendY": 286, "direction": "vertical", "columns": 2, "columnPadding": 81, "rowPadding": 4, "symbolSize": 36, "labelOffset": 13, "title": null, "symbolStrokeWidth": 1}}}}
   ]}
 ], "spacing": 17, "resolve": {"scale": {"strokeDash": "independent", "size": "independent", "shape": "independent", "fill": "independent", "stroke": "independent"}}}
], "spacing": 14
}
